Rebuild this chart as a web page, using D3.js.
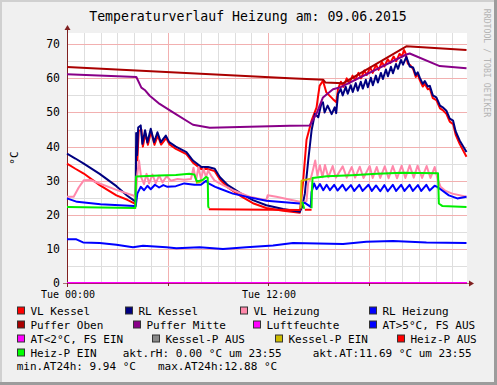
<!DOCTYPE html>
<html>
<head>
<meta charset="utf-8">
<script src="https://cdn.jsdelivr.net/npm/d3@7/dist/d3.min.js"></script>
<style>
body { margin: 0; background: #f0f0f0; overflow: hidden; }
svg { display: block; }
text { font-family: "DejaVu Sans Mono", monospace; fill: #000; }
</style>
</head>
<body>
<script>
/*
*    Temperaturverlauf Heizung - rrdtool style
*/

// Data: [hour, °C], null = gap
var vlKessel = [[0,35.0],[0.5,33.5],[1.0,32.1],[1.95,28.7],[2.95,25.7],[3.6,24.4],[4.05,23.3],[4.1,23.0],[4.14,40.0],[4.2,36.0],[4.28,44.5],[4.44,45.0],[4.53,40.0],[4.68,43.8],[4.83,40.5],[5.02,44.5],[5.22,40.5],[5.42,43.2],[5.62,40.6],[5.92,42.5],[6.12,40.6],[6.5,39.3],[7.13,37.8],[7.52,35.3],[8.02,33.4],[8.42,33.4],[8.82,32.8],[9.12,30.4],[9.6,28.0],[10.4,25.4],[11.1,23.4],[11.9,22.0],[12.9,21.2],[13.9,20.6],[14.1,30.0],[14.3,42.0],[14.6,47.6],[14.9,51.5],[14.98,54.4],[15.08,57.8],[15.28,59.3],[15.48,55.9],[15.88,53.9],[16.08,53.0],[16.18,56.9],[16.35,59.0],[16.5,57.5],[16.7,60.0],[16.85,58.5],[17.05,60.8],[17.2,59.5],[17.4,61.6],[17.55,60.0],[17.75,62.3],[17.9,61.0],[18.1,63.2],[18.25,61.6],[18.45,64.0],[18.6,62.5],[18.8,64.8],[18.95,63.5],[19.15,65.6],[19.3,64.5],[19.5,66.4],[19.65,65.0],[19.85,67.2],[20.0,66.5],[20.12,68.3],[20.2,67.5],[20.35,64.3],[20.5,63.8],[20.66,62.8],[20.82,60.4],[20.94,61.2],[21.06,59.5],[21.24,57.6],[21.36,58.4],[21.54,56.8],[21.66,57.0],[21.84,54.2],[22.05,53.6],[22.27,51.2],[22.43,50.7],[22.65,49.6],[22.85,47.3],[23.05,46.6],[23.2,43.5],[23.44,40.8],[23.85,37.0]];

var rlKessel = [[0,37.9],[0.5,36.5],[1.0,35.0],[1.95,32.0],[2.95,28.4],[3.6,25.6],[4.05,24.0],[4.1,23.8],[4.13,44.0],[4.18,37.5],[4.25,45.6],[4.4,46.2],[4.5,40.8],[4.66,44.8],[4.8,41.2],[5.0,45.2],[5.2,41.3],[5.4,44.2],[5.6,41.3],[5.9,43.2],[6.1,41.3],[6.5,40.0],[7.13,38.4],[7.52,35.9],[8.02,34.0],[8.42,34.0],[8.82,33.5],[9.12,31.1],[9.6,28.7],[10.4,26.2],[11.1,24.3],[11.9,22.8],[12.9,21.7],[13.9,20.9],[14.05,22.5],[14.2,26.2],[14.4,35.9],[14.6,44.7],[14.8,49.6],[15.0,48.6],[15.18,52.5],[15.28,53.0],[15.38,50.0],[15.56,52.0],[15.8,49.5],[15.98,51.5],[16.07,49.8],[16.18,55.4],[16.34,56.9],[16.46,55.0],[16.64,57.5],[16.76,55.5],[16.94,58.0],[17.06,56.0],[17.24,58.6],[17.36,56.4],[17.54,59.0],[17.66,57.0],[17.84,59.6],[17.96,57.4],[18.14,60.2],[18.26,58.0],[18.44,60.8],[18.56,58.8],[18.74,61.6],[18.86,59.8],[19.04,62.6],[19.16,60.6],[19.34,63.4],[19.46,61.5],[19.64,64.2],[19.76,62.8],[19.94,65.4],[20.06,64.0],[20.26,66.3],[20.46,63.5],[20.66,63.2],[20.82,61.0],[20.94,61.8],[21.06,60.2],[21.24,58.4],[21.36,59.2],[21.54,57.6],[21.66,57.8],[21.84,55.0],[22.05,54.4],[22.27,52.0],[22.43,51.5],[22.65,50.5],[22.85,48.2],[23.05,47.6],[23.2,44.5],[23.44,41.8],[23.85,38.4]];

var vlHeizung = [[0,25.3],[0.4,25.3],[0.7,28.0],[1.0,30.1],[1.4,30.2],[2.95,27.3],[4.0,25.6],[4.1,24.5],[4.2,32.0],[4.3,35.9],[4.42,31.1],[4.6,29.0],[4.75,32.0],[4.9,29.2],[5.1,31.8],[5.3,29.3],[5.5,31.5],[5.7,29.5],[5.95,31.3],[6.2,30.0],[6.6,30.5],[7.0,30.3],[7.4,30.5],[7.55,33.8],[7.7,30.0],[7.85,34.0],[8.0,30.5],[8.15,33.5],[8.3,31.0],[8.42,33.0],[8.6,31.5],[8.8,30.1],[9.2,29.0],[9.9,27.2],[10.9,25.3],[11.9,24.3],[11.98,25.7],[12.5,25.3],[13.9,23.8],[14.05,23.5],[14.3,24.0],[14.4,29.5],[14.55,30.5],[14.7,33.5],[14.82,35.9],[14.95,31.5],[15.1,34.5],[15.25,31.0],[15.4,34.6],[15.6,31.0],[15.86,34.3],[16.05,30.9],[16.46,34.2],[16.7,30.9],[17.0,34.0],[17.2,30.9],[17.48,34.1],[17.7,30.8],[18.07,34.3],[18.25,30.8],[18.49,34.0],[18.7,30.8],[18.97,34.2],[19.2,30.7],[19.45,34.3],[19.7,30.7],[19.98,34.4],[20.2,30.8],[20.46,34.5],[20.7,30.9],[20.93,34.4],[21.2,30.8],[21.47,34.3],[21.7,30.8],[21.95,34.0],[22.1,31.0],[22.3,28.2],[22.6,27.0],[23.0,26.2],[23.85,25.3]];

var rlHeizung = [[0,24.8],[0.6,23.8],[2.0,23.1],[4.0,22.6],[4.1,22.5],[4.2,26.2],[4.4,28.2],[4.6,27.2],[4.8,28.5],[5.0,27.5],[5.25,28.8],[5.5,28.0],[5.75,28.7],[6.0,28.2],[6.5,28.4],[7.0,29.2],[7.6,28.8],[8.0,28.8],[8.3,30.0],[8.45,29.2],[8.85,28.2],[9.1,27.7],[9.9,26.2],[10.9,25.1],[11.9,24.1],[13.9,23.3],[14.2,23.5],[14.55,22.3],[14.6,26.7],[14.75,29.2],[14.9,27.5],[15.1,29.0],[15.3,27.2],[15.5,28.8],[15.7,27.2],[15.95,28.8],[16.15,27.1],[16.45,28.8],[16.65,27.1],[16.95,28.7],[17.15,27.0],[17.45,28.8],[17.65,27.0],[18.0,28.8],[18.2,27.0],[18.45,28.6],[18.7,26.9],[18.95,28.7],[19.15,26.9],[19.45,28.8],[19.65,27.0],[19.95,28.8],[20.15,27.0],[20.45,28.8],[20.65,27.0],[20.95,28.7],[21.15,27.0],[21.45,28.8],[21.65,27.1],[21.95,28.5],[22.1,28.2],[22.3,27.5],[22.8,25.7],[23.3,24.8],[23.85,25.3]];

var pufferOben = [[0,63.3],[13.3,60.0],[15.3,59.6],[15.42,58.8],[16.5,58.6],[20.26,69.4],[23.85,68.3]];

var pufferMitte = [[0,61.2],[4.14,60.4],[4.44,57.3],[4.64,56.6],[4.94,54.9],[5.53,52.5],[6.33,50.0],[7.52,46.4],[8.52,45.5],[13.3,46.1],[14.49,46.2],[14.89,49.6],[15.28,54.4],[15.88,56.8],[16.28,57.3],[20.26,67.0],[20.46,67.3],[22.25,63.6],[23.85,63.0]];

var luftfeuchte = [[0,0],[23.88,0]];

var aussenTemp = [[0,12.8],[0.56,12.8],[0.96,11.9],[1.95,11.7],[2.95,11.2],[3.94,10.5],[4.54,10.9],[5.93,10.5],[6.53,10.2],[7.92,10.5],[9.31,10.0],[10.71,10.5],[12.3,11.0],[13.49,11.7],[16.48,11.4],[17.87,12.1],[19.46,12.3],[21.46,11.9],[23.85,11.7]];

var kesselPEin = [[7.7,29.3],[8.05,29.8],[8.1,null],[13.95,21.8],[14.0,30.0],[14.55,30.6]];

var heizPAus = [[8.47,21.6],[13.95,21.4],[14.0,null],[14.2,21.5],[14.6,21.5]];

var heizPEin = [[0,22.3],[4.08,22.0],[4.12,31.2],[5.5,31.5],[6.5,31.7],[7.3,32.0],[7.6,31.8],[7.75,29.8],[8.1,30.2],[8.3,31.1],[8.4,30.8],[8.43,22.5],[8.47,21.9],[8.5,null],[14.05,23.8],[14.15,22.0],[14.2,21.9],[14.3,null],[14.6,21.9],[14.62,27.2],[14.66,30.8],[15.5,31.3],[17,31.6],[18.5,32.0],[20,32.3],[22.15,32.2],[22.2,23.3],[22.4,22.6],[23.85,22.3]];

var xTickHours = [0, 12];
var xTickLabels = ["Tue 00:00", "Tue 12:00"];
var yTicks = [0, 10, 20, 30, 40, 50, 60, 70];

var legendLabels = ["VL Kessel", "RL Kessel", "VL Heizung", "RL Heizung", "Puffer Oben", "Puffer Mitte", "Luftfeuchte", "AT>5°C, FS AUS", "AT<2°C, FS EIN", "Kessel-P AUS", "Kessel-P EIN", "Heiz-P AUS", "Heiz-P EIN"];
var legendColors = ["#ff0000", "#000080", "#ff88aa", "#0000ff", "#aa0000", "#880088", "#ff00ff", "#0000ff", "#ff00ff", "#888888", "#ccbb00", "#ff0000", "#00ff00"];
var infoTexts = ["akt.rH: 0.00 °C um 23:55", "akt.AT:11.69 °C um 23:55", "min.AT24h: 9.94 °C", "max.AT24h:12.88 °C"];

var width = 497;
var height = 385;
var margin = {top: 33, right: 30, bottom: 102, left: 67};
var innerWidth = width - margin.left - margin.right;
var innerHeight = height - margin.top - margin.bottom;

//Scales (absolute page coordinates)
var x = d3.scaleLinear().domain([0, 23.88]).range([margin.left, margin.left + innerWidth]);
var y = d3.scaleLinear().domain([0, 73.3]).range([margin.top + innerHeight, margin.top]);
var x0 = margin.left, y0 = margin.top + innerHeight;

//Canvas
var svg = d3.select("body").append("svg")
    .attr("width", width)
    .attr("height", height);

svg.append("rect").attr("width", width).attr("height", height).attr("fill", "#f0f0f0");
svg.append("path").attr("d", "M1,385V1H497").attr("fill", "none").attr("stroke", "#d0d0d0").attr("stroke-width", 2);
svg.append("path").attr("d", "M0,383.5H495.5V0").attr("fill", "none").attr("stroke", "#9c9c9c").attr("stroke-width", 3);

//Title + watermark
svg.append("text")
    .attr("x", 248).attr("y", 20.5)
    .attr("text-anchor", "middle")
    .style("font-size", "13.2px")
    .text("Temperaturverlauf Heizung am: 09.06.2015");

svg.append("text")
    .attr("transform", "translate(484, 63) rotate(90)")
    .attr("text-anchor", "middle")
    .style("font-size", "8.2px")
    .style("fill", "#b4b4b4")
    .text("RRDTOOL / TOBI OETIKER");

svg.append("text")
    .attr("transform", "translate(18, 158) rotate(-90)")
    .attr("text-anchor", "middle")
    .style("font-size", "11px")
    .text("°C");

svg.append("rect").attr("x", x0).attr("y", margin.top)
    .attr("width", innerWidth).attr("height", innerHeight).attr("fill", "#fff");

//Grid
var hours = d3.range(1, 24);
svg.selectAll(".vgrid").data(hours).enter().append("line")
    .attr("x1", d => Math.round(x(d)) + 0.5).attr("x2", d => Math.round(x(d)) + 0.5)
    .attr("y1", margin.top).attr("y2", y0)
    .attr("stroke", d => d % 6 == 0 ? "#f2b0b0" : "#dedede");

var yMinor = d3.range(5, 75, 5);
svg.selectAll(".hgrid").data(yMinor).enter().append("line")
    .attr("x1", x0).attr("x2", x0 + innerWidth)
    .attr("y1", d => Math.round(y(d)) + 0.5).attr("y2", d => Math.round(y(d)) + 0.5)
    .attr("stroke", d => d % 10 == 0 ? "#f2b0b0" : "#dedede");

//Axes labels
svg.selectAll(".ylab").data(yTicks).enter().append("text")
    .attr("x", x0 - 7).attr("y", d => y(d) + 4)
    .attr("text-anchor", "end")
    .style("font-size", "11.5px")
    .text(d => d);

svg.selectAll(".xlab").data(xTickHours).enter().append("text")
    .attr("x", d => x(d) + 1).attr("y", y0 + 14.5)
    .attr("text-anchor", "middle")
    .style("font-size", "10px")
    .text((d, i) => xTickLabels[i]);

//Lines
var line = d3.line()
    .defined(d => d[1] !== null)
    .x(d => x(d[0]))
    .y(d => y(d[1]));

var series = [
    [vlKessel, "#ff0000"],
    [rlKessel, "#000080"],
    [vlHeizung, "#ff88aa"],
    [rlHeizung, "#0000ff"],
    [pufferOben, "#aa0000"],
    [pufferMitte, "#880088"],
    [luftfeuchte, "#ff00ff"],
    [aussenTemp, "#0000ff"],
    [kesselPEin, "#ccbb00"],
    [heizPAus, "#ff0000"],
    [heizPEin, "#00ee00"]
];

// y axis under the data like rrdtool
svg.append("line").attr("x1", x0 + 0.5).attr("x2", x0 + 0.5).attr("y1", y0 + 4).attr("y2", margin.top - 5)
    .attr("stroke", "#802020");
svg.append("path").attr("d", "M" + (x0 - 2.5) + "," + (margin.top - 3) + "l3,-5l3,5Z").attr("fill", "#802020");

svg.selectAll(".series").data(series).enter().append("path")
    .attr("d", d => line(d[0]))
    .attr("fill", "none")
    .attr("stroke", d => d[1])
    .attr("stroke-width", 2)
    .attr("stroke-linejoin", "round");

svg.append("line").attr("x1", x0 - 4).attr("x2", x0 + innerWidth + 3).attr("y1", y0 + 0.5).attr("y2", y0 + 0.5)
    .attr("stroke", "#802020").attr("stroke-opacity", 0.6);
svg.append("path").attr("d", "M" + (x0 + innerWidth + 2) + "," + (y0 - 2.5) + "l5,3l-5,3Z").attr("fill", "#802020");
svg.selectAll(".xtick").data(d3.range(0, 24, 6)).enter().append("line")
    .attr("x1", d => Math.round(x(d)) + 0.5).attr("x2", d => Math.round(x(d)) + 0.5)
    .attr("y1", y0).attr("y2", y0 + 3)
    .attr("stroke", "#802020");

//Legend
var legendPos = [[17, 0], [125, 0], [240, 0], [369, 0],
                 [17, 1], [133, 1], [253, 1], [369, 1],
                 [17, 2], [152, 2], [275, 2], [397, 2],
                 [17, 3]];
svg.selectAll(".lbox").data(legendLabels).enter().append("rect")
    .attr("x", (d, i) => legendPos[i][0] + 0.5)
    .attr("y", (d, i) => 307 + legendPos[i][1] * 14)
    .attr("width", 7).attr("height", 7)
    .attr("fill", (d, i) => legendColors[i])
    .attr("stroke", "#333").attr("stroke-width", 1);
svg.selectAll(".ltext").data(legendLabels).enter().append("text")
    .attr("x", (d, i) => legendPos[i][0] + 13.5)
    .attr("y", (d, i) => 314.5 + legendPos[i][1] * 14)
    .style("font-size", "11px")
    .text(d => d);

var infoPos = [[122.7, 356.5], [312.7, 356.5], [16.7, 369.5], [158, 369.5]];
svg.selectAll(".info").data(infoTexts).enter().append("text")
    .attr("x", (d, i) => infoPos[i][0]).attr("y", (d, i) => infoPos[i][1])
    .style("font-size", "11px")
    .text(d => d);
</script>
</body>
</html>
